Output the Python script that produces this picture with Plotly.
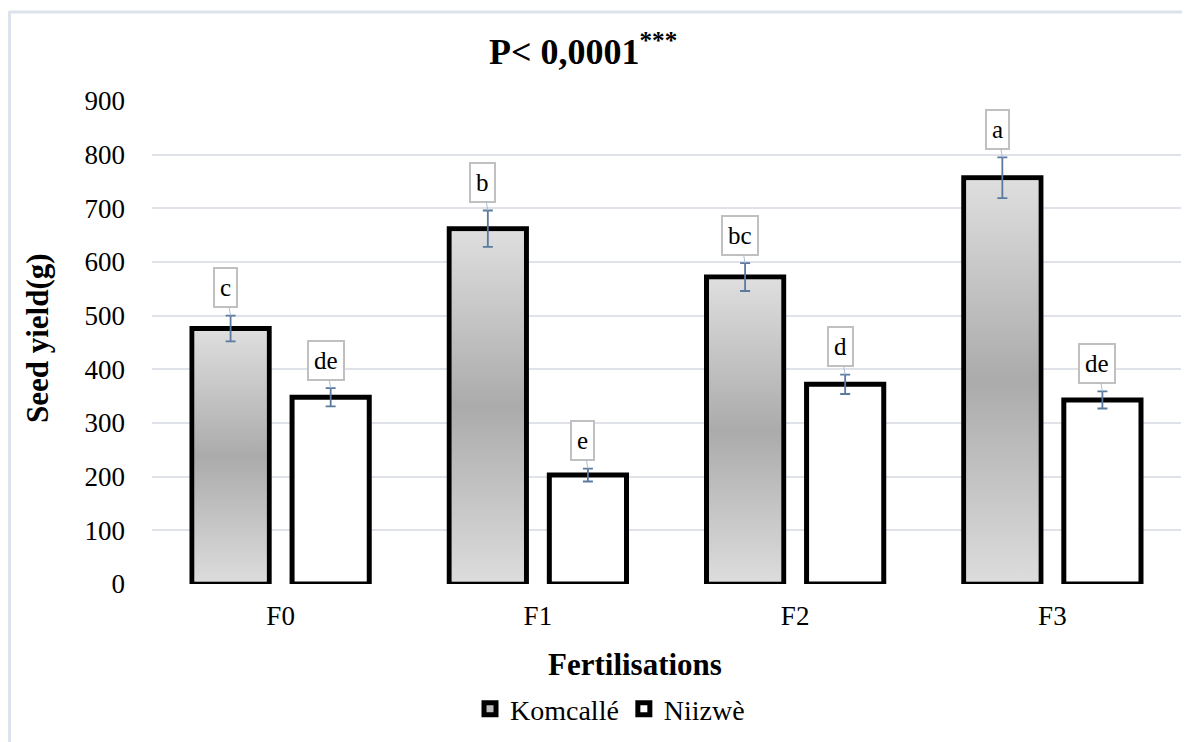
import plotly.graph_objects as go

# ---------------- data ----------------
categories = ["F0", "F1", "F2", "F3"]
komcalle = [476, 662, 572, 757]
komcalle_err = [24, 34, 26, 38]
niizwe = [348, 203, 372, 343]
niizwe_err = [17, 12, 18, 16]
komcalle_letters = ["c", "b", "bc", "a"]
niizwe_letters = ["de", "e", "d", "de"]
y_ticks = [0, 100, 200, 300, 400, 500, 600, 700, 800, 900]

# ---------------- geometry / style ----------------
OFF = 8  # page body margin
W, H = 1190 - OFF, 742 - OFF
ML, MR, MT, MB = 152 - OFF, 9, 101 - OFF, 158
PLOT_W = W - ML - MR
PLOT_H = H - MT - MB
Y_MAX = 900
PX_PER_UNIT = PLOT_H / Y_MAX
BAR_W = 0.30
K_OFF = -0.1945
N_OFF = 0.1945
LINE_W = 5
FONT = "Liberation Serif"
GRID = "#dfe3e9"
ERR_COLOR = "#5a7aa0"

x_idx = list(range(len(categories)))
kx = [i + K_OFF for i in x_idx]
nx = [i + N_OFF for i in x_idx]


def px_x(p):
    return (p - OFF - ML) / PLOT_W


def px_y(p):
    return (H - MB - (p - OFF)) / PLOT_H


fig = go.Figure()

fig.add_trace(go.Bar(
    x=kx, y=komcalle, width=BAR_W, name="Komcallé",
    marker=dict(color="#bdbdbd", line=dict(color="black", width=LINE_W)),
    zorder=0,
))
fig.add_trace(go.Bar(
    x=nx, y=niizwe, width=BAR_W, name="Niizwè",
    marker=dict(color="white", line=dict(color="black", width=LINE_W)),
    zorder=0,
))

# gradient fill inside Komcallé bars
inset_x = (LINE_W / 2) / (PLOT_W / (len(categories)))
inset_y = (LINE_W / 2) / PX_PER_UNIT
for cx, v in zip(kx, komcalle):
    x0 = cx - BAR_W / 2 + inset_x
    x1 = cx + BAR_W / 2 - inset_x
    y0 = inset_y
    y1 = v - inset_y
    fig.add_trace(go.Scatter(
        x=[x0, x1, x1, x0, x0], y=[y0, y0, y1, y1, y0],
        mode="lines", line=dict(width=0, color="rgba(0,0,0,0)"),
        fill="toself",
        fillgradient=dict(type="vertical",
                          colorscale=[[0, "#dcdcdc"], [0.5, "#ababab"], [1, "#dedede"]]),
        showlegend=False, hoverinfo="skip", zorder=1,
    ))

# error bars
for xs, ys, es in ((kx, komcalle, komcalle_err), (nx, niizwe, niizwe_err)):
    fig.add_trace(go.Scatter(
        x=xs, y=ys, mode="markers",
        marker=dict(size=1, color="rgba(0,0,0,0)"),
        error_y=dict(type="data", array=es, color=ERR_COLOR, thickness=1.8, width=5),
        showlegend=False, hoverinfo="skip", zorder=2,
    ))

# letter labels
annotations = []
for xs, ys, es, labs in ((kx, komcalle, komcalle_err, komcalle_letters),
                         (nx, niizwe, niizwe_err, niizwe_letters)):
    for xv, yv, ev, lab in zip(xs, ys, es, labs):
        annotations.append(dict(
            x=xv, y=yv + ev, xref="x", yref="y", text=lab,
            showarrow=True, arrowhead=0, arrowwidth=1, arrowcolor="#a9bed6",
            ax=-5, ay=-28, standoff=0,
            font=dict(family=FONT, size=25, color="black"),
            bgcolor="white", bordercolor="#c0c0c0", borderwidth=2, borderpad=5,
        ))

# title
annotations.append(dict(
    text="<b>P< 0,0001<sup>***</sup></b>", xref="paper", yref="paper",
    x=px_x(583), y=px_y(50), xanchor="center", yanchor="middle", showarrow=False,
    font=dict(family=FONT, size=36, color="black"),
))
# axis titles
annotations.append(dict(
    text="<b>Seed yield(g)</b>", xref="paper", yref="paper",
    x=px_x(37), y=px_y(338), xanchor="center", yanchor="middle", showarrow=False,
    textangle=-90, font=dict(family=FONT, size=31, color="black"),
))
annotations.append(dict(
    text="<b>Fertilisations</b>", xref="paper", yref="paper",
    x=px_x(635), y=px_y(664), xanchor="center", yanchor="middle", showarrow=False,
    font=dict(family=FONT, size=31, color="black"),
))

# outer chart-area border (left and top edges visible)
shapes = [
    dict(type="line", xref="paper", yref="paper",
         x0=px_x(9.5), x1=px_x(1200), y0=px_y(12), y1=px_y(12),
         line=dict(color="#dde3ea", width=3)),
    dict(type="line", xref="paper", yref="paper",
         x0=px_x(9.5), x1=px_x(9.5), y0=px_y(11), y1=px_y(760),
         line=dict(color="#dde3ea", width=3)),
]

fig.update_layout(
    width=W, height=H,
    margin=dict(l=ML, r=MR, t=MT, b=MB, autoexpand=False),
    paper_bgcolor="white", plot_bgcolor="white",
    font=dict(family=FONT, size=26, color="black"),
    barmode="overlay",
    showlegend=True,
    legend=dict(orientation="h", x=px_x(610), y=px_y(709), xanchor="center", yanchor="middle",
                font=dict(family=FONT, size=28, color="black"),
                itemwidth=30, tracegroupgap=0, traceorder="normal"),
    annotations=annotations,
    shapes=shapes,
    xaxis=dict(range=[-0.5, len(categories) - 0.5], tickmode="array",
               tickvals=x_idx, ticktext=categories, showgrid=False, zeroline=False,
               showline=False, ticks="", ticklabelstandoff=13,
               tickfont=dict(family=FONT, size=27, color="black")),
    yaxis=dict(range=[0, Y_MAX], tickmode="array", tickvals=y_ticks,
               showgrid=True, gridcolor=GRID, gridwidth=2, zeroline=False,
               showline=False, ticks="", ticklabelstandoff=26,
               tickfont=dict(family=FONT, size=27, color="black")),
)

fig.write_html("out.html")
